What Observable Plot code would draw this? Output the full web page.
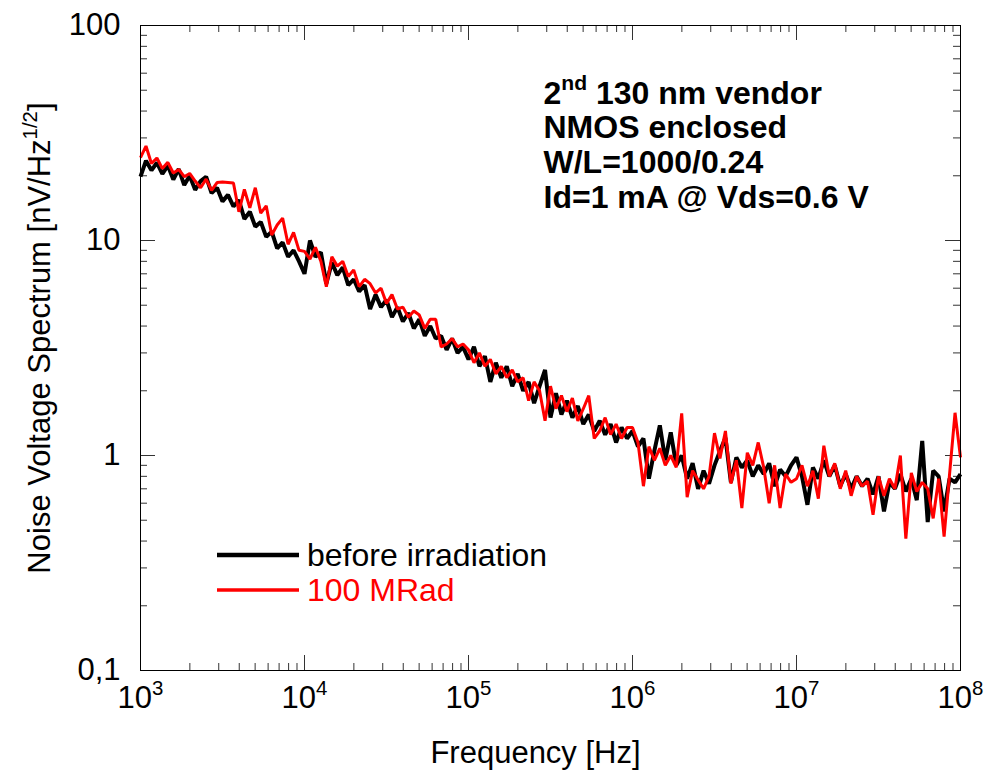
<!DOCTYPE html>
<html><head><meta charset="utf-8">
<script src="https://cdn.jsdelivr.net/npm/d3@7"></script>
<script src="https://cdn.jsdelivr.net/npm/@observablehq/plot@0.6"></script>
<style>body{margin:0;background:#fff}</style>
</head><body><div id="chart"></div>
<script>
// Frequencies [Hz]
const freq = [
 1000,1080,1166,1259,1359,1468,1585,1711,1848,1995,2154,2326,2512,2712,2929,3162,3415,3687,3981,4299,4642,5012,5412,5843,6310,6813,7356,7943,8577,9261,
 1.000e4,1.080e4,1.166e4,1.259e4,1.359e4,1.468e4,1.585e4,1.711e4,1.848e4,1.995e4,2.154e4,2.326e4,2.512e4,2.712e4,2.929e4,3.162e4,3.415e4,3.687e4,3.981e4,4.299e4,4.642e4,5.012e4,5.412e4,5.843e4,6.310e4,6.813e4,7.356e4,7.943e4,8.577e4,9.261e4,
 1.000e5,1.080e5,1.166e5,1.259e5,1.359e5,1.468e5,1.585e5,1.711e5,1.848e5,1.995e5,2.154e5,2.326e5,2.512e5,2.712e5,2.929e5,3.162e5,3.415e5,3.687e5,3.981e5,4.299e5,4.642e5,5.012e5,5.412e5,5.843e5,6.310e5,6.813e5,7.356e5,7.943e5,8.577e5,9.261e5,
 1.000e6,1.080e6,1.166e6,1.259e6,1.359e6,1.468e6,1.585e6,1.711e6,1.848e6,1.995e6,2.154e6,2.326e6,2.512e6,2.712e6,2.929e6,3.162e6,3.415e6,3.687e6,3.981e6,4.299e6,4.642e6,5.012e6,5.412e6,5.843e6,6.310e6,6.813e6,7.356e6,7.943e6,8.577e6,9.261e6,
 1.000e7,1.080e7,1.166e7,1.259e7,1.359e7,1.468e7,1.585e7,1.711e7,1.848e7,1.995e7,2.154e7,2.326e7,2.512e7,2.712e7,2.929e7,3.162e7,3.415e7,3.687e7,3.981e7,4.299e7,4.642e7,5.012e7,5.412e7,5.843e7,6.310e7,6.813e7,7.356e7,7.943e7,8.577e7,9.261e7,
 1.000e8
];
// Noise voltage spectrum [nV/Hz^1/2], before irradiation (black)
const beforeIrradiation = [
 19.8,23.5,21.2,23.0,20.4,22.3,19.2,21.5,18.1,20.0,17.2,18.9,19.8,16.6,17.6,15.2,16.3,14.4,15.4,12.6,13.6,11.6,12.2,10.4,11.0,9.2,9.8,8.4,9.0,8.0,
 7.0,10.0,8.4,8.8,6.3,7.9,6.9,7.5,6.2,6.6,5.8,6.2,4.8,5.6,4.9,5.3,4.4,4.9,4.2,4.6,3.9,4.3,3.6,4.0,3.5,3.6,3.1,3.5,3.0,3.2,
 2.8,3.2,2.6,2.9,2.2,2.7,2.3,2.6,2.1,2.4,2.0,2.2,1.75,2.1,2.5,1.5,1.95,1.55,1.8,1.5,1.7,1.4,1.55,1.3,1.45,1.25,1.4,1.15,1.35,1.2,
 1.3,1.1,1.2,0.78,1.05,1.38,0.95,1.28,0.9,1.0,0.78,0.92,0.7,0.85,0.74,0.9,1.05,1.21,0.75,0.98,0.88,0.95,0.8,0.9,0.82,0.92,0.72,0.86,0.8,0.9,
 0.98,0.8,0.59,0.88,0.78,0.95,0.8,0.9,0.72,0.82,0.7,0.8,0.72,0.78,0.66,0.8,0.55,0.75,0.7,0.82,0.68,0.78,0.62,1.17,0.49,0.85,0.8,0.55,0.78,0.75,
 0.82
];
// After 100 MRad (red)
const after100MRad = [
 24.3,27.5,22.8,24.2,21.6,23.1,20.6,21.4,19.8,20.5,18.9,17.6,19.3,17.1,18.6,18.7,18.6,18.5,13.6,17.3,14.2,17.6,13.4,14.5,10.6,11.8,12.7,9.6,10.9,9.0,
 8.9,8.2,9.3,8.0,6.1,8.4,7.6,8.0,6.8,7.3,6.1,6.6,6.3,5.7,6.0,5.1,5.6,4.8,4.9,4.4,4.7,4.5,3.9,4.3,4.3,3.2,3.3,3.5,3.2,3.3,
 3.1,2.7,3.0,2.6,2.8,2.4,2.6,2.3,2.5,2.2,2.3,1.8,2.2,2.0,1.45,2.1,1.65,1.9,1.6,1.85,1.45,1.65,1.9,1.2,1.3,1.5,1.25,1.4,1.2,1.35,
 1.35,1.15,0.72,1.1,0.95,1.08,0.9,1.0,0.88,1.57,0.64,0.85,0.77,0.7,0.8,1.27,0.97,1.3,0.74,0.95,0.57,1.03,0.9,1.15,0.88,0.6,0.9,0.57,0.82,0.75,
 0.78,0.9,0.72,0.85,0.63,1.11,0.8,0.92,0.7,0.85,0.65,0.8,0.72,0.76,0.53,0.8,0.65,0.78,0.7,1.0,0.41,0.83,0.68,0.75,0.7,0.51,0.78,0.42,0.82,1.58,
 0.98
];
const xMajor = [1e3,1e4,1e5,1e6,1e7,1e8];
const xTickExponents = ["3","4","5","6","7","8"];
const xMinor = [2e3,3e3,4e3,5e3,6e3,7e3,8e3,9e3,2e4,3e4,4e4,5e4,6e4,7e4,8e4,9e4,2e5,3e5,4e5,5e5,6e5,7e5,8e5,9e5,2e6,3e6,4e6,5e6,6e6,7e6,8e6,9e6,2e7,3e7,4e7,5e7,6e7,7e7,8e7,9e7];
const yMajor = [0.1,1,10,100];
const yTickLabels = ["0,1","1","10","100"];
const yMinor = [0.2,0.3,0.4,0.5,0.6,0.7,0.8,0.9,2,3,4,5,6,7,8,9,20,30,40,50,60,70,80,90];
const seriesNames = ["before irradiation","100 MRad"];
const seriesColors = ["#000000","#ff0000"];
const annotationLines = ["2^{nd} 130 nm vendor","NMOS enclosed","W/L=1000/0.24","Id=1 mA @ Vds=0.6 V"];
const xTitle = "Frequency [Hz]";
const yTitle = "Noise Voltage Spectrum [nV/Hz^{1/2}]";

const W = 1001, H = 770, ML = 140, MR = 41, MT = 25, MB = 100;
const FH = H - MT - MB, FW = W - ML - MR;
const majorLen = 15, minorLen = 7, tickColor = "#333";

const rowsBefore = freq.map((f, i) => ({f, v: beforeIrradiation[i]}));
const rowsAfter = freq.map((f, i) => ({f, v: after100MRad[i]}));

const chart = Plot.plot({
  width: W, height: H,
  marginLeft: ML, marginRight: MR, marginTop: MT, marginBottom: MB,
  style: {fontFamily: "'Liberation Sans', Arial, sans-serif", background: "#fff", color: "#000", overflow: "visible"},
  x: {type: "log", domain: [1e3, 1e8]},
  y: {type: "log", domain: [0.1, 100]},
  marks: [
    Plot.tickX(xMinor, {x: d => d, insetTop: FH - minorLen, stroke: tickColor}),
    Plot.tickX(xMinor, {x: d => d, insetBottom: FH - minorLen, stroke: tickColor}),
    Plot.tickX(xMajor, {x: d => d, insetTop: FH - majorLen, stroke: tickColor}),
    Plot.tickX(xMajor, {x: d => d, insetBottom: FH - majorLen, stroke: tickColor}),
    Plot.tickY(yMinor, {y: d => d, insetRight: FW - minorLen, stroke: tickColor}),
    Plot.tickY(yMinor, {y: d => d, insetLeft: FW - minorLen, stroke: tickColor}),
    Plot.tickY(yMajor, {y: d => d, insetRight: FW - majorLen, stroke: tickColor}),
    Plot.tickY(yMajor, {y: d => d, insetLeft: FW - majorLen, stroke: tickColor}),
    Plot.line(rowsBefore, {x: "f", y: "v", stroke: seriesColors[0], strokeWidth: 4, strokeLinejoin: "miter", strokeLinecap: "butt"}),
    Plot.line(rowsAfter, {x: "f", y: "v", stroke: seriesColors[1], strokeWidth: 3, strokeLinejoin: "miter", strokeLinecap: "butt"}),
    Plot.frame({stroke: "#000", strokeWidth: 1}),
    Plot.axisX({ticks: xMajor, tickSize: 0, tickPadding: 15, label: null, fontSize: 31,
      tickFormat: d => "10^{" + xTickExponents[xMajor.indexOf(d)] + "}"}),
    Plot.axisY({ticks: yMajor, tickSize: 0, tickPadding: 20, label: null, fontSize: 31,
      tickFormat: d => yTickLabels[yMajor.indexOf(d)]}),
    Plot.text([xTitle], {text: d => d, frameAnchor: "bottom", dx: -15, dy: 92, lineAnchor: "bottom", fontSize: 31}),
    Plot.text([yTitle], {text: d => d, frameAnchor: "left", textAnchor: "middle", rotate: -90, dx: -100, dy: -10, lineAnchor: "middle", fontSize: 31}),
    ...annotationLines.map((t, i) => Plot.text([t], {text: d => d, frameAnchor: "top-left", textAnchor: "start",
      lineAnchor: "bottom", dx: 403, dy: 78 + i * 34.7, fontSize: 32, fontWeight: "bold"}))
  ]
});
document.getElementById("chart").appendChild(chart);

// superscripts
d3.select(chart).selectAll("text").each(function() {
  const s = this.textContent;
  const m = s.match(/^(.*?)\^\{(.*?)\}(.*)$/);
  if (!m) return;
  const F = parseFloat(getComputedStyle(this).fontSize) || 31;
  const shift = 0.42 * F, sup = 0.66 * F;
  const sel = d3.select(this);
  sel.text(null);
  sel.append("tspan").text(m[1]);
  sel.append("tspan").attr("dy", -shift).attr("font-size", sup).text(m[2]);
  if (m[3]) sel.append("tspan").attr("dy", shift).text(m[3]);
});

// legend
const lg = d3.select(chart).append("g").attr("font-size", 32).attr("text-anchor", "start")
  .attr("font-family", "'Liberation Sans', Arial, sans-serif");
seriesNames.forEach((name, i) => {
  const yy = 555 + i * 35;
  lg.append("line").attr("x1", 217).attr("x2", 299).attr("y1", yy).attr("y2", yy)
    .attr("stroke", seriesColors[i]).attr("stroke-width", i === 0 ? 4.5 : 3.5);
  lg.append("text").attr("x", 307).attr("y", yy + 11).attr("text-anchor", "start").attr("fill", seriesColors[i]).text(name);
});
</script></body></html>
